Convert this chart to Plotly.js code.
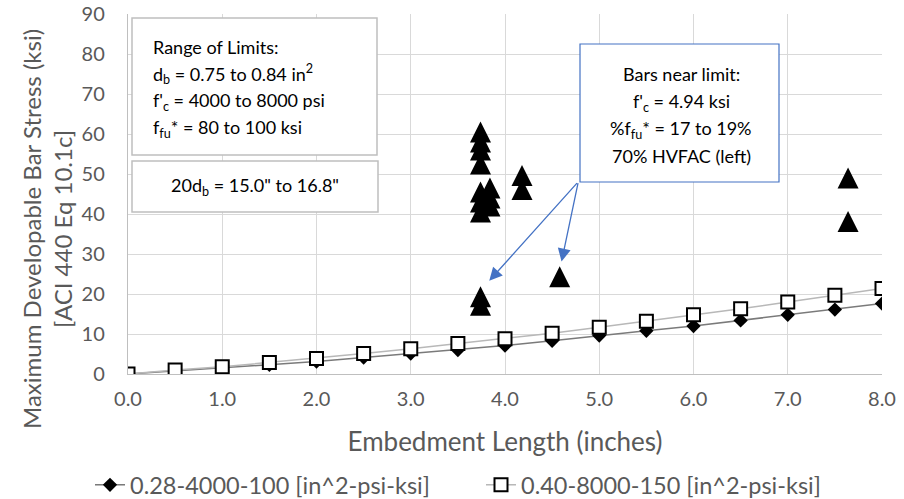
<!DOCTYPE html>
<html>
<head>
<meta charset="utf-8">
<script src="https://cdn.plot.ly/plotly-3.0.1.min.js"></script>
<style>
  html, body { margin: 0; padding: 0; background: #ffffff; }
  #chart { width: 904px; height: 499px; }
</style>
</head>
<body>
<div id="chart"></div>
<script>
// Embedment lengths (inches) for the two ACI 440 curves
const embedLength = [0, 0.5, 1, 1.5, 2, 2.5, 3, 3.5, 4, 4.5, 5, 5.5, 6, 6.5, 7, 7.5, 8];
// 0.28-4000-100 [in^2-psi-ksi]
const stressLow = [0, 0.8, 1.5, 2.3, 3.1, 4.1, 5.1, 6.0, 7.1, 8.3, 9.6, 10.8, 12.0, 13.4, 14.8, 16.1, 17.6];
// 0.40-8000-150 [in^2-psi-ksi]
const stressHigh = [0, 1.0, 1.8, 2.9, 3.9, 5.1, 6.3, 7.6, 8.8, 10.2, 11.7, 13.2, 14.8, 16.3, 18.0, 19.7, 21.4];
// Test bars (triangles)
const testLength = [3.74, 3.74, 3.74, 3.74, 3.74, 3.74, 3.74, 3.84, 3.84, 3.84, 4.18, 4.18, 3.74, 3.74, 4.58, 7.64, 7.64];
const testStress = [60.5, 58.0, 56.0, 52.5, 45.5, 43.0, 40.5, 46.5, 44.0, 42.0, 49.6, 46.1, 19.3, 17.2, 24.3, 49.0, 38.1];

const seriesNames = ['0.28-4000-100 [in^2-psi-ksi]', '0.40-8000-150 [in^2-psi-ksi]'];
const xTicks = [0, 1, 2, 3, 4, 5, 6, 7, 8];
const yTicks = [0, 10, 20, 30, 40, 50, 60, 70, 80, 90];

const FONT = 'Lato, "Open Sans", sans-serif';
const GRAY = '#595959';

const traces = [
  {
    x: embedLength, y: stressLow, name: seriesNames[0], type: 'scatter', mode: 'lines+markers',
    line: {color: '#7a7a7a', width: 1.5},
    marker: {symbol: 'diamond', size: 11, color: '#000000'}
  },
  {
    x: embedLength, y: stressHigh, name: seriesNames[1], type: 'scatter', mode: 'lines+markers',
    line: {color: '#b8b8b8', width: 1.5},
    marker: {symbol: 'square', size: 13, color: '#ffffff', line: {color: '#000000', width: 2}}
  },
  {
    x: testLength, y: testStress, type: 'scatter', mode: 'markers', showlegend: false,
    marker: {symbol: 'arrow-down', angle: 180, size: 21, color: '#000000', standoff: 10.5}
  }
];

// pixel helpers for paper-referenced decorations
const W = 904, H = 499;
const L = 128, R = 882, T = 14, B = 374;
const px = v => (v - L) / (R - L);
const py = v => (B - v) / (B - T);

const shapes = [
  {type: 'rect', xref: 'paper', yref: 'paper', x0: px(132), x1: px(377), y0: py(155), y1: py(18),
   line: {color: '#bfbfbf', width: 1.5}, fillcolor: '#ffffff', layer: 'above'},
  {type: 'rect', xref: 'paper', yref: 'paper', x0: px(132), x1: px(378), y0: py(212), y1: py(161),
   line: {color: '#bfbfbf', width: 1.5}, fillcolor: '#ffffff', layer: 'above'},
  {type: 'rect', xref: 'paper', yref: 'paper', x0: px(580), x1: px(779), y0: py(182), y1: py(44),
   line: {color: '#4472c4', width: 1.2}, fillcolor: '#ffffff', layer: 'above'}
];

const boxFont = {family: FONT, size: 18, color: '#000000'};
function txt(text, x, y, anchor) {
  return {text: text, xref: 'paper', yref: 'paper', x: px(x), y: py(y), xanchor: anchor, yanchor: 'middle',
          showarrow: false, font: boxFont};
}

const annotations = [
  txt('Range of Limits:', 151, 47, 'left'),
  txt('d<sub>b</sub> = 0.75 to 0.84 in<sup>2</sup>', 151, 74, 'left'),
  txt("f'<sub>c</sub> = 4000 to 8000 psi", 151, 101, 'left'),
  txt('f<sub>fu</sub>* = 80 to 100 ksi', 151, 128, 'left'),
  txt('20d<sub>b</sub> = 15.0" to 16.8"', 255, 187, 'center'),
  txt('Bars near limit:', 681, 74, 'center'),
  txt("f'<sub>c</sub> = 4.94 ksi", 681, 102, 'center'),
  txt('%f<sub>fu</sub>* = 17 to 19%', 681, 129, 'center'),
  txt('70% HVFAC (left)', 681, 156, 'center'),
  {text: '', x: 3.833, y: 23.3, xref: 'x', yref: 'y', ax: 4.778, ay: 48.1, axref: 'x', ayref: 'y',
   showarrow: true, arrowhead: 2, arrowsize: 2, arrowwidth: 1.3, arrowcolor: '#4472c4'},
  {text: '', x: 4.60, y: 28.1, xref: 'x', yref: 'y', ax: 4.778, ay: 48.1, axref: 'x', ayref: 'y',
   showarrow: true, arrowhead: 2, arrowsize: 2, arrowwidth: 1.3, arrowcolor: '#4472c4'},
  {text: 'Maximum Developable Bar Stress (ksi)<br>[ACI 440 Eq 10.1c]', xref: 'paper', yref: 'paper',
   x: px(47), y: py(229), xanchor: 'center', yanchor: 'middle', textangle: -90, showarrow: false,
   font: {family: FONT, size: 24, color: GRAY}}
];

const layout = {
  width: W, height: H,
  margin: {l: L, r: W - R, t: T, b: H - B, autoexpand: false},
  paper_bgcolor: '#ffffff', plot_bgcolor: '#ffffff',
  font: {family: FONT, color: GRAY},
  showlegend: true,
  legend: {orientation: 'h', xref: 'paper', yref: 'paper', x: px(90), y: py(485),
           xanchor: 'left', yanchor: 'middle',
           font: {family: FONT, size: 23.5, color: GRAY}, entrywidth: 346, entrywidthmode: 'pixels'},
  xaxis: {
    range: [0, 8], tickvals: xTicks, tickformat: '.1f', ticks: '', ticklabelstandoff: 7, automargin: false,
    showgrid: true, gridcolor: '#d9d9d9', gridwidth: 1, zeroline: false,
    showline: true, linecolor: '#bfbfbf', linewidth: 1.2,
    tickfont: {family: FONT, size: 20, color: GRAY},
    title: {text: 'Embedment Length (inches)', font: {family: FONT, size: 26, color: GRAY}, standoff: 23}
  },
  yaxis: {
    range: [0, 90], tickvals: yTicks, ticks: '', ticklabelstandoff: 18, automargin: false,
    showgrid: true, gridcolor: '#d9d9d9', gridwidth: 1, zeroline: false,
    showline: true, linecolor: '#bfbfbf', linewidth: 1.2,
    tickfont: {family: FONT, size: 20, color: GRAY}
  },
  shapes: shapes,
  annotations: annotations
};

Plotly.newPlot('chart', traces, layout, {displayModeBar: false, staticPlot: true});
</script>
</body>
</html>
